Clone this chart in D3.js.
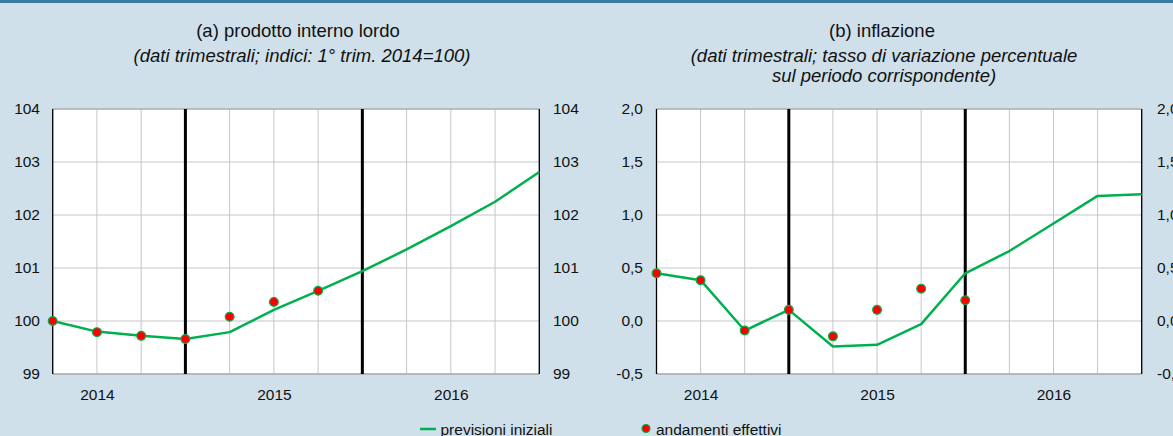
<!DOCTYPE html>
<html><head><meta charset="utf-8">
<script src="https://cdn.jsdelivr.net/npm/d3@7"></script>
<style>
html,body{margin:0;padding:0;background:#cfe0ea;}
svg{display:block;font-family:"Liberation Sans",Arial,Helvetica,sans-serif;}
</style></head><body>
<svg id="c" width="1173" height="436"></svg>
<script>
const quarters = ["2014Q1","2014Q2","2014Q3","2014Q4","2015Q1","2015Q2","2015Q3","2015Q4","2016Q1","2016Q2","2016Q3","2016Q4"];
const yearLabels = {"2014Q2":"2014","2015Q2":"2015","2016Q2":"2016"};
const markerQuarters = ["2014Q4","2015Q4"];

const gdpForecast = [100, 99.8, 99.72, 99.66, 99.79, 100.21, 100.57, 100.94, 101.35, 101.79, 102.25, 102.81];
const gdpActual   = [100, 99.79, 99.72, 99.66, 100.08, 100.36, 100.57];
const gdpTicks = [99, 100, 101, 102, 103, 104];

const infForecast = [0.45, 0.385, -0.09, 0.105, -0.24, -0.225, -0.03, 0.45, 0.66, 0.92, 1.18, 1.195];
const infActual   = [0.45, 0.385, -0.09, 0.105, -0.145, 0.105, 0.305, 0.195];
const infTicks = [-0.5, 0, 0.5, 1.0, 1.5, 2.0];

const titles = [
  {t:"(a) prodotto interno lordo", s:["(dati trimestrali; indici: 1° trim. 2014=100)"]},
  {t:"(b) inflazione", s:["(dati trimestrali; tasso di variazione percentuale","sul periodo corrispondente)"]}
];
const legendLabels = ["previsioni iniziali", "andamenti effettivi"];

const svg = d3.select("#c");
const GREEN = "#00b04f";
const TICK_FS = 15.5, TITLE_FS = 18.5, SUB_FS = 18.5;

svg.append("rect").attr("x",0).attr("y",0).attr("width",1173).attr("height",436).attr("fill","#cfe0ea");
svg.append("line").attr("x1",0).attr("x2",1173).attr("y1",1.5).attr("y2",1.5).attr("stroke","#3b7aa2").attr("stroke-width",3);

function panel(cfg){
  const g = svg.append("g");
  const x = d3.scalePoint().domain(quarters).range([cfg.x0, cfg.x1]);
  const y = d3.scaleLinear().domain(cfg.domain).range([374, 109]);
  g.append("rect").attr("x",cfg.x0).attr("y",109).attr("width",cfg.x1-cfg.x0).attr("height",265).attr("fill","#fff");
  g.selectAll(".hg").data(cfg.ticks).join("line")
    .attr("x1",cfg.x0).attr("x2",cfg.x1).attr("y1",d=>y(d)).attr("y2",d=>y(d))
    .attr("stroke","#c6c6c6").attr("stroke-width",1);
  g.selectAll(".vg").data(quarters).join("line")
    .attr("x1",d=>x(d)).attr("x2",d=>x(d)).attr("y1",109).attr("y2",374)
    .attr("stroke","#c6c6c6").attr("stroke-width",1);
  g.append("line").attr("x1",cfg.x0).attr("x2",cfg.x1).attr("y1",374).attr("y2",374).attr("stroke","#a9adb2").attr("stroke-width",1.5);
  g.append("line").attr("x1",cfg.x0).attr("x2",cfg.x1).attr("y1",109).attr("y2",109).attr("stroke","#9aa0a6").attr("stroke-width",1);
  [cfg.x0, cfg.x1].forEach(v=>g.append("line").attr("x1",v).attr("x2",v).attr("y1",109).attr("y2",374).attr("stroke","#000").attr("stroke-width",1.3));
  g.selectAll(".tk").data(markerQuarters).join("line")
    .attr("x1",d=>x(d)).attr("x2",d=>x(d)).attr("y1",109).attr("y2",374)
    .attr("stroke","#000").attr("stroke-width",3);
  const yAxisL = d3.axisLeft(y).tickValues(cfg.ticks).tickSize(0).tickPadding(0).tickFormat(cfg.fmt);
  const yAxisR = d3.axisRight(y).tickValues(cfg.ticks).tickSize(0).tickPadding(0).tickFormat(cfg.fmt);
  const la = g.append("g").attr("transform",`translate(${cfg.lx},0)`).call(yAxisL);
  const ra = g.append("g").attr("transform",`translate(${cfg.rx},0)`).call(yAxisR);
  [la,ra].forEach(a=>{a.select(".domain").remove();a.selectAll("text").attr("font-size",TICK_FS).attr("fill","#111").attr("font-family","Liberation Sans, Arial, sans-serif");});
  const xa = d3.axisBottom(x).tickSize(0).tickPadding(0).tickFormat(d=>yearLabels[d]||"");
  const xg = g.append("g").attr("transform","translate(0,388.5)").call(xa);
  xg.select(".domain").remove();
  xg.selectAll("text").attr("font-size",TICK_FS).attr("fill","#111").attr("font-family","Liberation Sans, Arial, sans-serif");
  const line = d3.line().x((d,i)=>x(quarters[i])).y(d=>y(d));
  g.append("path").datum(cfg.forecast).attr("d",line).attr("fill","none").attr("stroke",GREEN).attr("stroke-width",2.5).attr("stroke-linejoin","round");
  g.selectAll(".pt").data(cfg.actual).join("circle")
    .attr("cx",(d,i)=>x(quarters[i])).attr("cy",d=>y(d)).attr("r",4.4)
    .attr("fill","#ff0000").attr("stroke",GREEN).attr("stroke-width",1.2);
  g.append("text").attr("x",cfg.tcx).attr("y",37).attr("text-anchor","middle").attr("font-size",TITLE_FS).attr("fill","#111").text(cfg.title.t);
  cfg.title.s.forEach((s,i)=>g.append("text").attr("x",cfg.scx).attr("y",61.5+i*20).attr("text-anchor","middle").attr("font-size",SUB_FS).attr("font-style","italic").attr("fill","#111").text(s));
}

panel({x0:52.7,x1:539.3,domain:[99,104],ticks:gdpTicks,fmt:d3.format("d"),lx:40,rx:553,forecast:gdpForecast,actual:gdpActual,title:titles[0],tcx:298,scx:302});
const itFmt = d=>d3.format(".1f")(d).replace(".",",").replace("−","-");
panel({x0:656.5,x1:1141.7,domain:[-0.5,2.0],ticks:infTicks,fmt:itFmt,lx:643,rx:1157,forecast:infForecast,actual:infActual,title:titles[1],tcx:882,scx:884});

const lg = svg.append("g").attr("font-size",TICK_FS).attr("fill","#111");
lg.append("line").attr("x1",420).attr("x2",436).attr("y1",429).attr("y2",429).attr("stroke",GREEN).attr("stroke-width",2.5);
lg.append("text").attr("x",440.5).attr("y",434.5).text(legendLabels[0]);
lg.append("circle").attr("cx",646).attr("cy",428.5).attr("r",4).attr("fill","#ff0000").attr("stroke",GREEN).attr("stroke-width",1.2);
lg.append("text").attr("x",656).attr("y",434.5).text(legendLabels[1]);
</script>
</body></html>
